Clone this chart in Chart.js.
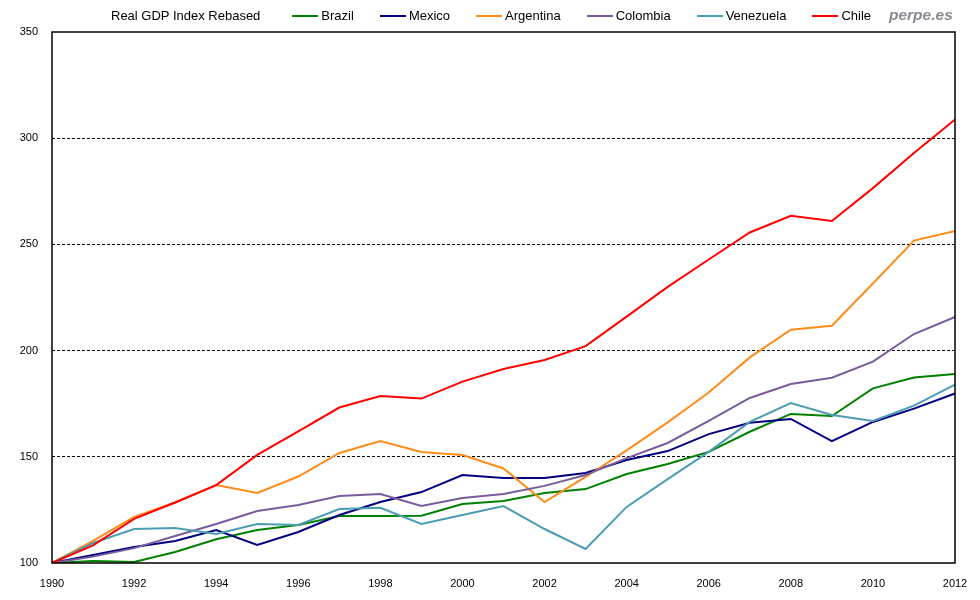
<!DOCTYPE html>
<html>
<head>
<meta charset="utf-8">
<script src="https://cdn.jsdelivr.net/npm/chart.js@4.4.1/dist/chart.umd.min.js"></script>
<style>
  html, body { margin: 0; padding: 0; background: #fff; }
  #wrap { position: relative; width: 980px; height: 600px; font-family: "Liberation Sans", Arial, sans-serif; }
  #legend { position: absolute; left: 111px; top: 7px; font-size: 13px; line-height: 18px; color: #000; white-space: nowrap; display: flex; align-items: center; }
  #legend .title { margin-right: 32px; }
  #legend .item { display: flex; align-items: center; margin-right: 26px; }
  #legend .swatch { display: inline-block; width: 26px; height: 2px; margin-right: 3px; }
  #brand { position: absolute; left: 889px; top: 6px; font-size: 15.5px; font-weight: bold; font-style: italic; color: #878b91; }
</style>
</head>
<body>
<div id="wrap">
  <canvas id="gdpChart" width="980" height="600"></canvas>
  <div id="legend"></div>
  <div id="brand">perpe.es</div>
</div>
<script>
// Real GDP index, 1990 = 100
const years = [1990, 1991, 1992, 1993, 1994, 1995, 1996, 1997, 1998, 1999, 2000, 2001,
               2002, 2003, 2004, 2005, 2006, 2007, 2008, 2009, 2010, 2011, 2012];

const brazil    = [100, 101, 100.5, 105.2, 111.2, 115.5, 117.9, 122.1, 122.1, 122.3, 127.8, 129.2, 133, 134.8, 141.9, 146.6, 152.3, 161.8, 170.2, 169.2, 182.2, 187.3, 189];
const mexico    = [100, 103.8, 107.5, 110.4, 115.5, 108.5, 114.6, 122.6, 128.7, 133.4, 141.4, 140, 140, 142.4, 148.5, 152.7, 160.7, 166, 167.8, 157.4, 166.4, 172.7, 179.8];
const argentina = [100, 110.4, 121.7, 128.5, 136.7, 133, 140.7, 151.8, 157.4, 152.3, 150.8, 144.5, 128.7, 140.5, 153, 166.2, 180.3, 196.8, 209.8, 211.7, 231.6, 251.8, 256.3];
const colombia  = [100, 103, 107, 112.7, 118.4, 124.5, 127.3, 131.5, 132.5, 126.8, 130.6, 132.5, 136.3, 141.4, 149.4, 156.5, 166.9, 177.7, 184.3, 187.2, 194.8, 207.8, 215.8];
const venezuela = [100, 109.4, 116, 116.5, 113.7, 118.4, 117.9, 125.4, 126, 118.4, 122.6, 126.8, 116, 106.6, 126.4, 139.5, 152.3, 166.4, 175.3, 169.7, 166.9, 174.1, 184];
const chile     = [100, 108.3, 120.8, 128.5, 136.7, 150.9, 162, 173.2, 178.6, 177.4, 185.4, 191.3, 195.6, 202.1, 216, 230, 242.9, 255.6, 263.5, 261, 276.5, 293, 308.8];

const seriesNames  = ['Brazil', 'Mexico', 'Argentina', 'Colombia', 'Venezuela', 'Chile'];
const seriesValues = [brazil, mexico, argentina, colombia, venezuela, chile];
const seriesColors = ['#008000', '#000080', '#ff8c1a', '#785c9c', '#4b9db3', '#ff0000'];

const yTicks = [100, 150, 200, 250, 300, 350];
const chartTitle = 'Real GDP Index Rebased';

// borde negro alrededor del área del gráfico
const framePlugin = {
    id: 'frame',
    afterDatasetsDraw(chart) {
        const a = chart.chartArea;
        const ctx = chart.ctx;
        ctx.save();
        ctx.setLineDash([]);
        ctx.strokeStyle = '#000';
        ctx.lineWidth = 1.5;
        ctx.strokeRect(a.left, a.top, a.right - a.left, a.bottom - a.top);
        ctx.restore();
    }
};

const datasets = seriesNames.map((name, i) => ({
    label: name,
    data: seriesValues[i],
    borderColor: seriesColors[i],
    backgroundColor: seriesColors[i],
    borderWidth: 2,
    pointRadius: 0,
    tension: 0,
    fill: false,
    order: seriesNames.length - i
}));

// leyenda en HTML
const legend = document.getElementById('legend');
legend.innerHTML = `<span class="title">${chartTitle}</span>` +
    seriesNames.map((n, i) =>
        `<span class="item"><span class="swatch" style="background:${seriesColors[i]}"></span>${n}</span>`
    ).join('');

const tickFont = { family: '"Liberation Sans", Arial, sans-serif', size: 11 };

new Chart(document.getElementById('gdpChart').getContext('2d'), {
    type: 'line',
    data: { labels: years, datasets: datasets },
    options: {
        responsive: false,
        animation: false,
        layout: { padding: { top: 32, right: 25, left: 0, bottom: 0 } },
        plugins: { legend: { display: false }, tooltip: { enabled: false } },
        scales: {
            x: {
                offset: false,
                grid: { display: false },
                border: { display: false },
                ticks: {
                    autoSkip: false,
                    maxRotation: 0,
                    padding: 6,
                    color: '#000',
                    font: tickFont,
                    callback: function(value, index) {
                        return years[index] % 2 === 0 ? String(years[index]) : '';
                    }
                },
                afterFit: function(scale) { scale.height = 37; }
            },
            y: {
                min: yTicks[0],
                max: yTicks[yTicks.length - 1],
                afterBuildTicks: function(scale) { scale.ticks = yTicks.map(v => ({ value: v })); },
                grid: {
                    drawTicks: false,
                    color: ctx => (ctx.tick && (ctx.tick.value === yTicks[0] || ctx.tick.value === yTicks[yTicks.length - 1])) ? 'rgba(0,0,0,0)' : '#000',
                    lineWidth: 1
                },
                border: { display: false, dash: [3, 2] },
                ticks: { padding: 14, color: '#000', font: tickFont },
                afterFit: function(scale) { scale.width = 52; }
            }
        }
    },
    plugins: [framePlugin]
});
</script>
</body>
</html>
